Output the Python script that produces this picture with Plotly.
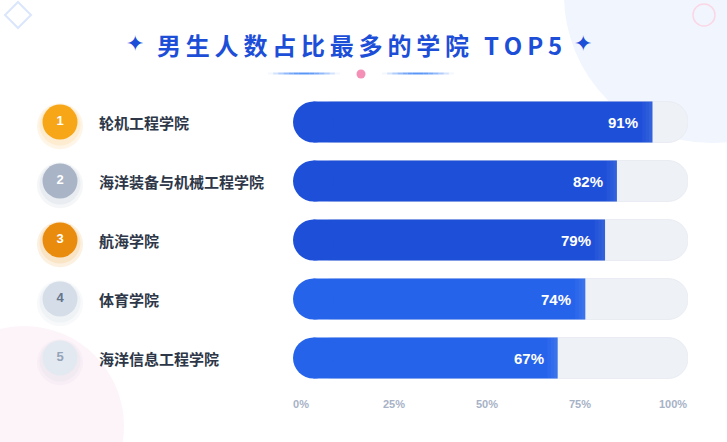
import math
import plotly.graph_objects as go

W, H = 727, 442

# ---------------- data ----------------
colleges = ["轮机工程学院", "海洋装备与机械工程学院", "航海学院", "体育学院", "海洋信息工程学院"]
ranks = ["1", "2", "3", "4", "5"]
male_pct = [91, 82, 79, 74, 67]
full_pct = 100
tick_vals = [0, 25, 50, 75, 100]
tick_text = ["0%", "25%", "50%", "75%", "100%"]
title_text = "男生人数占比最多的学院 TOP5"

# ---------------- styles ----------------
bar_colors = ["#1e4fd8", "#1e4fd8", "#1e4fd8", "#2563eb", "#2563eb"]
rank_fill = ["#f6a617", "#a9b4c6", "#e98b0c", "#d5dde8", "#e3e9f1"]
rank_glow = ["rgba(245,158,11,0.10)", "rgba(120,135,160,0.08)", "rgba(234,138,12,0.12)",
             "rgba(148,163,184,0.07)", "rgba(148,163,184,0.06)"]
rank_font = ["#ffffff", "#ffffff", "#ffffff", "#64748b", "#94a3b8"]
track_color = "#eef2f7"
n = len(colleges)
pos = list(range(n))

CJK = "Noto Sans CJK SC"
NUM = "Liberation Sans"

X0, X1 = 293, 688           # pixel extent of 0%..100%
BAR_PX = 41                 # bar thickness in px
ROW0, ROWSTEP, BOTTOM = 122, 59, 392


def px(x):
    return x / W


def py(y):
    return 1 - y / H


y_top = -ROW0 / ROWSTEP
y_bot = (BOTTOM - ROW0) / ROWSTEP
bar_w = BAR_PX / ROWSTEP
cap = (BAR_PX / 2) / (X1 - X0) * full_pct   # half bar thickness in data units

fig = go.Figure()

# track (rounded right end)
fig.add_trace(go.Bar(y=pos, x=[full_pct - cap] * n, base=[cap] * n, orientation="h", width=bar_w,
                     marker=dict(color=track_color, cornerradius=20, line=dict(width=1, color="#e9edf3")),
                     hoverinfo="skip", showlegend=False))
# value bars (square right end)
fig.add_trace(go.Bar(y=pos, x=[v - cap for v in male_pct], base=[cap] * n, orientation="h", width=bar_w,
                     marker=dict(color=bar_colors, line=dict(width=0)),
                     hoverinfo="skip", showlegend=False))
# soft highlight gradient at the end of each value bar
for wdt in (2.6, 1.7, 0.9):
    fig.add_trace(go.Bar(y=pos, x=[-wdt] * n, base=male_pct, orientation="h", width=bar_w,
                         marker=dict(color="rgba(255,255,255,0.035)", line=dict(width=0)),
                         hoverinfo="skip", showlegend=False))
# rounded left caps of value bars
fig.add_trace(go.Scatter(x=[cap] * n, y=pos, mode="markers",
                         marker=dict(size=BAR_PX, color=bar_colors, line=dict(width=0)),
                         hoverinfo="skip", showlegend=False))

# tick-label axis helper trace
fig.add_trace(go.Scatter(x=[tick_vals[0], tick_vals[-1]], y=[0, 0], xaxis="x2", yaxis="y",
                         mode="markers", marker=dict(opacity=0), hoverinfo="skip", showlegend=False))

# rank badges
for sz, dy in ((46, 0.07), (41, 0.05)):
    fig.add_trace(go.Scatter(x=[60] * n, y=[p + dy for p in pos], xaxis="x3", yaxis="y", mode="markers",
                             marker=dict(size=sz, color=rank_glow, line=dict(width=0)),
                             cliponaxis=False, hoverinfo="skip", showlegend=False))
fig.add_trace(go.Scatter(x=[60] * n, y=pos, xaxis="x3", yaxis="y", mode="markers+text",
                         marker=dict(size=35, color=rank_fill, line=dict(width=0)),
                         text=ranks, textposition="middle center",
                         textfont=dict(family=NUM, size=13, color=rank_font, weight="bold"),
                         cliponaxis=False, hoverinfo="skip", showlegend=False))

annotations = []
for i, name in enumerate(colleges):
    annotations.append(dict(x=97, y=i, xref="x3", yref="y", text=name, showarrow=False,
                            xanchor="left", yanchor="middle",
                            font=dict(family=CJK, size=15, color="#2d3748", weight="bold")))
for i, v in enumerate(male_pct):
    annotations.append(dict(x=v, y=i, xref="x", yref="y", text=f"{v}%", showarrow=False,
                            xanchor="right", yanchor="middle", xshift=-12,
                            font=dict(family=NUM, size=15, color="#ffffff", weight="bold")))

spaced = "\u2009".join(list(title_text))
annotations.append(dict(x=px(359.5), y=py(45), xref="paper", yref="paper", text=spaced,
                        showarrow=False, xanchor="center", yanchor="middle",
                        font=dict(family=CJK, size=24, color="#1d4ed8", weight="bold")))
for sx in (135, 583):
    annotations.append(dict(x=px(sx), y=py(44), xref="paper", yref="paper", text="✦",
                            showarrow=False, xanchor="center", yanchor="middle",
                            font=dict(family="DejaVu Sans", size=22, color="#1d4ed8")))

shapes = []


def circ(cx, cy, r, **kw):
    d = dict(type="circle", xref="paper", yref="paper",
             x0=px(cx - r), x1=px(cx + r), y0=py(cy + r), y1=py(cy - r), layer="below")
    d.update(kw)
    return d


shapes.append(circ(712, -5, 148, fillcolor="#f1f5fe", line=dict(width=0)))
shapes.append(circ(24, 426, 100, fillcolor="#fdf4f9", line=dict(width=0)))
shapes.append(circ(704, 15, 11, fillcolor="rgba(0,0,0,0)", line=dict(color="#fbd7e6", width=1.5)))
dpath = "M {} {} L {} {} L {} {} L {} {} Z".format(px(18), py(2), px(31), py(15), px(18), py(28), px(5), py(15))
shapes.append(dict(type="path", xref="paper", yref="paper", path=dpath, layer="below",
                   line=dict(color="#dbe6fd", width=2), fillcolor="rgba(0,0,0,0)"))

segs = 14
for (a, b) in ((268, 340), (382, 454)):
    for k in range(segs):
        t0 = k / segs
        t1 = (k + 1) / segs
        tm = (t0 + t1) / 2
        op = math.sin(math.pi * tm) ** 1.2
        shapes.append(dict(type="line", xref="paper", yref="paper",
                           x0=px(a + (b - a) * t0), x1=px(a + (b - a) * t1), y0=py(73.5), y1=py(73.5),
                           line=dict(color=f"rgba(59,130,246,{op*0.85:.3f})", width=2)))
shapes.append(circ(361, 74, 4.5, fillcolor="#f48fb6", line=dict(width=0), layer="above"))

fig.update_layout(
    template="none",
    width=W, height=H, autosize=False,
    margin=dict(l=0, r=0, t=0, b=0, pad=0, autoexpand=False),
    paper_bgcolor="#ffffff", plot_bgcolor="rgba(0,0,0,0)",
    barmode="overlay", showlegend=False,
    xaxis=dict(domain=[px(X0), px(X1)], range=[0, full_pct], visible=False, fixedrange=True,
               automargin=False),
    xaxis2=dict(domain=[px(301), px(673)], range=[tick_vals[0], tick_vals[-1]], anchor="y",
                tickvals=tick_vals, ticktext=tick_text, showgrid=False, zeroline=False,
                showline=False, ticks="", automargin=False, fixedrange=True, ticklabelstandoff=4,
                tickfont=dict(family=NUM, size=11, color="#a7b2c6", weight="bold")),
    xaxis3=dict(domain=[0, 1], range=[0, W], anchor="y", visible=False, fixedrange=True,
                automargin=False),
    yaxis=dict(domain=[py(BOTTOM), 1], range=[y_bot, y_top], visible=False, fixedrange=True,
               automargin=False),
    annotations=annotations, shapes=shapes,
)

fig.write_html("out.html", config={"displayModeBar": False, "responsive": False},
               post_script="document.body.style.margin='0';document.body.style.overflow='hidden';")
